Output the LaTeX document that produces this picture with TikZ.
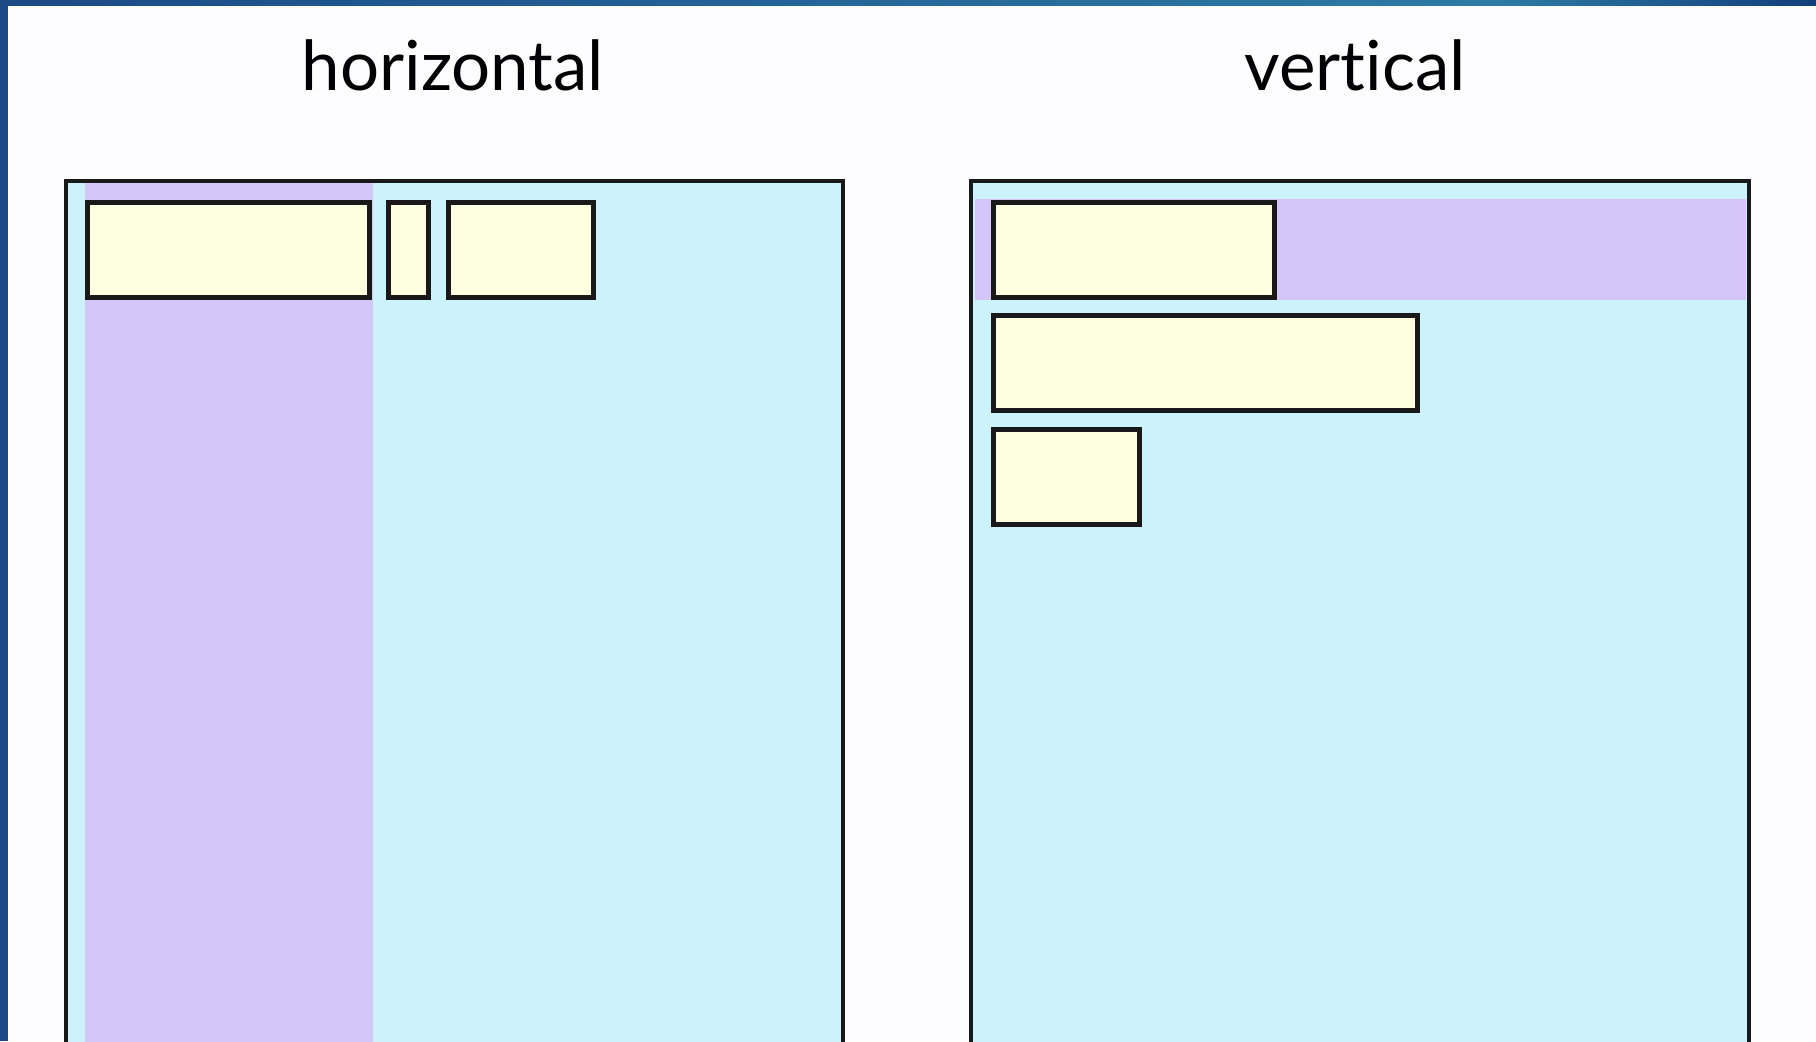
\documentclass[tikz,border=0pt]{standalone}
\usepackage{fontspec}
\setmainfont{Lato}[Ligatures=NoCommon]
\usepackage{tikz}
\definecolor{paneblue}{HTML}{CCF2FC}
\definecolor{panepurple}{HTML}{D6C5F8}
\definecolor{itemyellow}{HTML}{FEFEE0}
\definecolor{edgeblue}{HTML}{1B4A86}
\definecolor{edgeteal}{HTML}{2D7BA5}
\definecolor{edgenavy}{HTML}{123F7A}
\definecolor{pagewhite}{HTML}{FDFDFF}

\begin{document}
\begin{tikzpicture}[x=0.5pt, y=-0.5pt,
    item/.style={draw=black!90, line width=2.5pt, fill=itemyellow},
    frame/.style={draw=black!90, line width=2.2pt},
    title/.style={font=\fontsize{34.5}{40}\selectfont, anchor=base}]
    % === Page and slide edge ===
    \fill[pagewhite] (0,0) rectangle (1816,1041);
    \useasboundingbox (0,0) rectangle (1816,1041);
    \clip (0,0) rectangle (1816,1041);
    \shade[left color=edgeblue, right color=edgeteal] (0,0) rectangle (1500,5);
    \shade[left color=edgeteal, right color=edgenavy] (1500,0) rectangle (1816,5);
    \fill[edgeblue] (0,0) rectangle (8,1041);

    % === Titles ===
    \node[title] (htitle) at (453,90) {horizontal};
    \node[title] (vtitle) at (1355,90) {vertical};

    % === Horizontal panel ===
    \fill[paneblue] (66,181) rectangle (843,1060);
    \fill[panepurple] (85,183) rectangle (373,1060); % first column
    \draw[frame] (66,181) rectangle (843,1060);
    \draw[item] (87,202) rectangle (369,297);
    \draw[item] (388,202) rectangle (428,297);
    \draw[item] (448,202) rectangle (593,297);

    % === Vertical panel ===
    \fill[paneblue] (971,181) rectangle (1749,1060);
    \fill[panepurple] (975,199) rectangle (1746,300); % first row
    \draw[frame] (971,181) rectangle (1749,1060);
    \draw[item] (993,202) rectangle (1274,297);
    \draw[item] (993,315) rectangle (1417,410);
    \draw[item] (993,429) rectangle (1139,524);
\end{tikzpicture}
\end{document}
